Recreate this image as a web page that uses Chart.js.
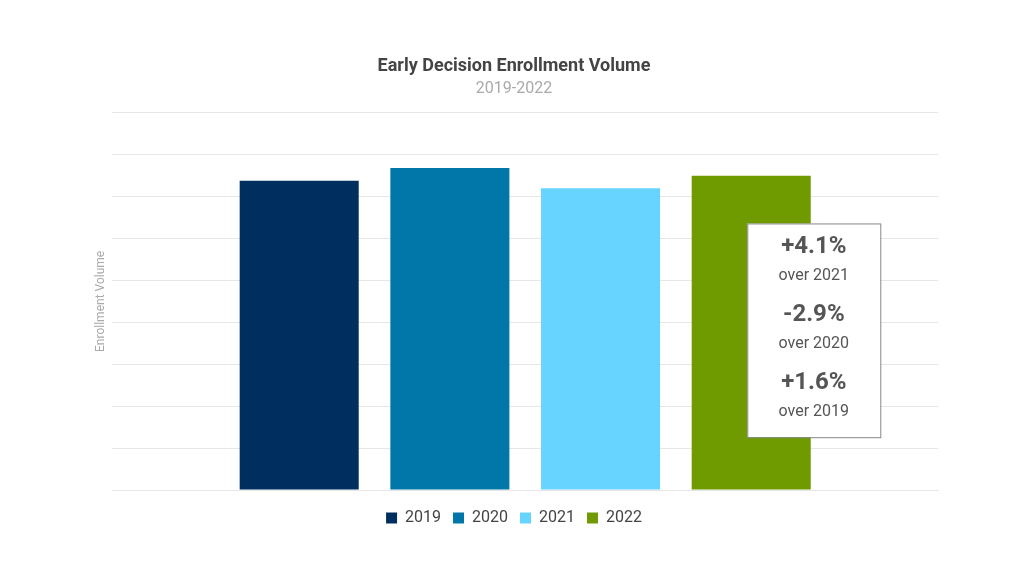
<!DOCTYPE html>
<html>
<head>
<meta charset="utf-8">
<script src="https://cdn.jsdelivr.net/npm/chart.js@4"></script>
<style>
  html, body { margin: 0; padding: 0; background: #fff; }
  #wrap { width: 1024px; height: 576px; }
</style>
</head>
<body>
<div id="wrap"><canvas id="chart" width="1024" height="576"></canvas></div>
<script>
const years = ['2019', '2020', '2021', '2022'];
const volumes = [738, 768, 720, 750];
const colors = ['#002f5f', '#0077a8', '#66d4ff', '#6f9a00'];
const notes = [['+4.1%', 'over 2021'], ['-2.9%', 'over 2020'], ['+1.6%', 'over 2019']];

const FONT = 'Roboto, "Noto Sans", sans-serif';

const changeBox = {
  id: 'changeBox',
  afterDraw(chart) {
    const { ctx, scales: { y }, chartArea } = chart;
    const left = chartArea.left + chartArea.width * 0.769;
    const w = 133;
    const top = y.getPixelForValue(636);
    const bottom = y.getPixelForValue(126);
    ctx.save();
    ctx.fillStyle = '#fff';
    ctx.strokeStyle = '#888';
    ctx.lineWidth = 1;
    ctx.fillRect(left, top, w, bottom - top);
    ctx.strokeRect(left + 0.5, top + 0.5, w, bottom - top);
    ctx.textAlign = 'center';
    ctx.textBaseline = 'middle';
    const cx = left + w / 2;
    notes.forEach((n, i) => {
      const base = top + 24 + i * 68;
      ctx.fillStyle = '#555';
      ctx.font = `bold 24px ${FONT}`;
      ctx.fillText(n[0], cx, base);
      ctx.font = `16px ${FONT}`;
      ctx.fillStyle = '#555';
      ctx.fillText(n[1], cx, base + 29);
    });
    ctx.restore();
  }
};

new Chart(document.getElementById('chart'), {
  type: 'bar',
  data: {
    labels: [''],
    datasets: years.map((yr, i) => ({
      label: yr,
      data: [volumes[i]],
      backgroundColor: colors[i],
      categoryPercentage: 0.73,
      barPercentage: 0.79
    }))
  },
  options: {
    responsive: false,
    animation: false,
    layout: { padding: { left: 90, right: 86, top: 56, bottom: 40 } },
    scales: {
      x: {
        grid: { display: false },
        border: { color: '#e6e6e6' },
        ticks: { display: false }
      },
      y: {
        min: 0, max: 900,
        ticks: { display: false, stepSize: 100 },
        grid: { color: '#e6e6e6', drawTicks: false },
        border: { display: false },
        title: { display: true, text: 'Enrollment Volume', color: '#aaa', font: { family: FONT, size: 12 }, padding: 4 }
      }
    },
    plugins: {
      title: { display: true, text: 'Early Decision Enrollment Volume', color: '#444', font: { family: FONT, size: 18, weight: 'bold' }, padding: { bottom: 2 } },
      subtitle: { display: true, text: '2019-2022', color: '#aaa', font: { family: FONT, size: 16 }, padding: { bottom: 14 } },
      legend: {
        position: 'bottom',
        labels: { boxWidth: 11, boxHeight: 11, color: '#444', font: { family: FONT, size: 16 }, padding: 12 }
      },
      tooltip: { enabled: false }
    }
  },
  plugins: [changeBox]
});
</script>
</body>
</html>
